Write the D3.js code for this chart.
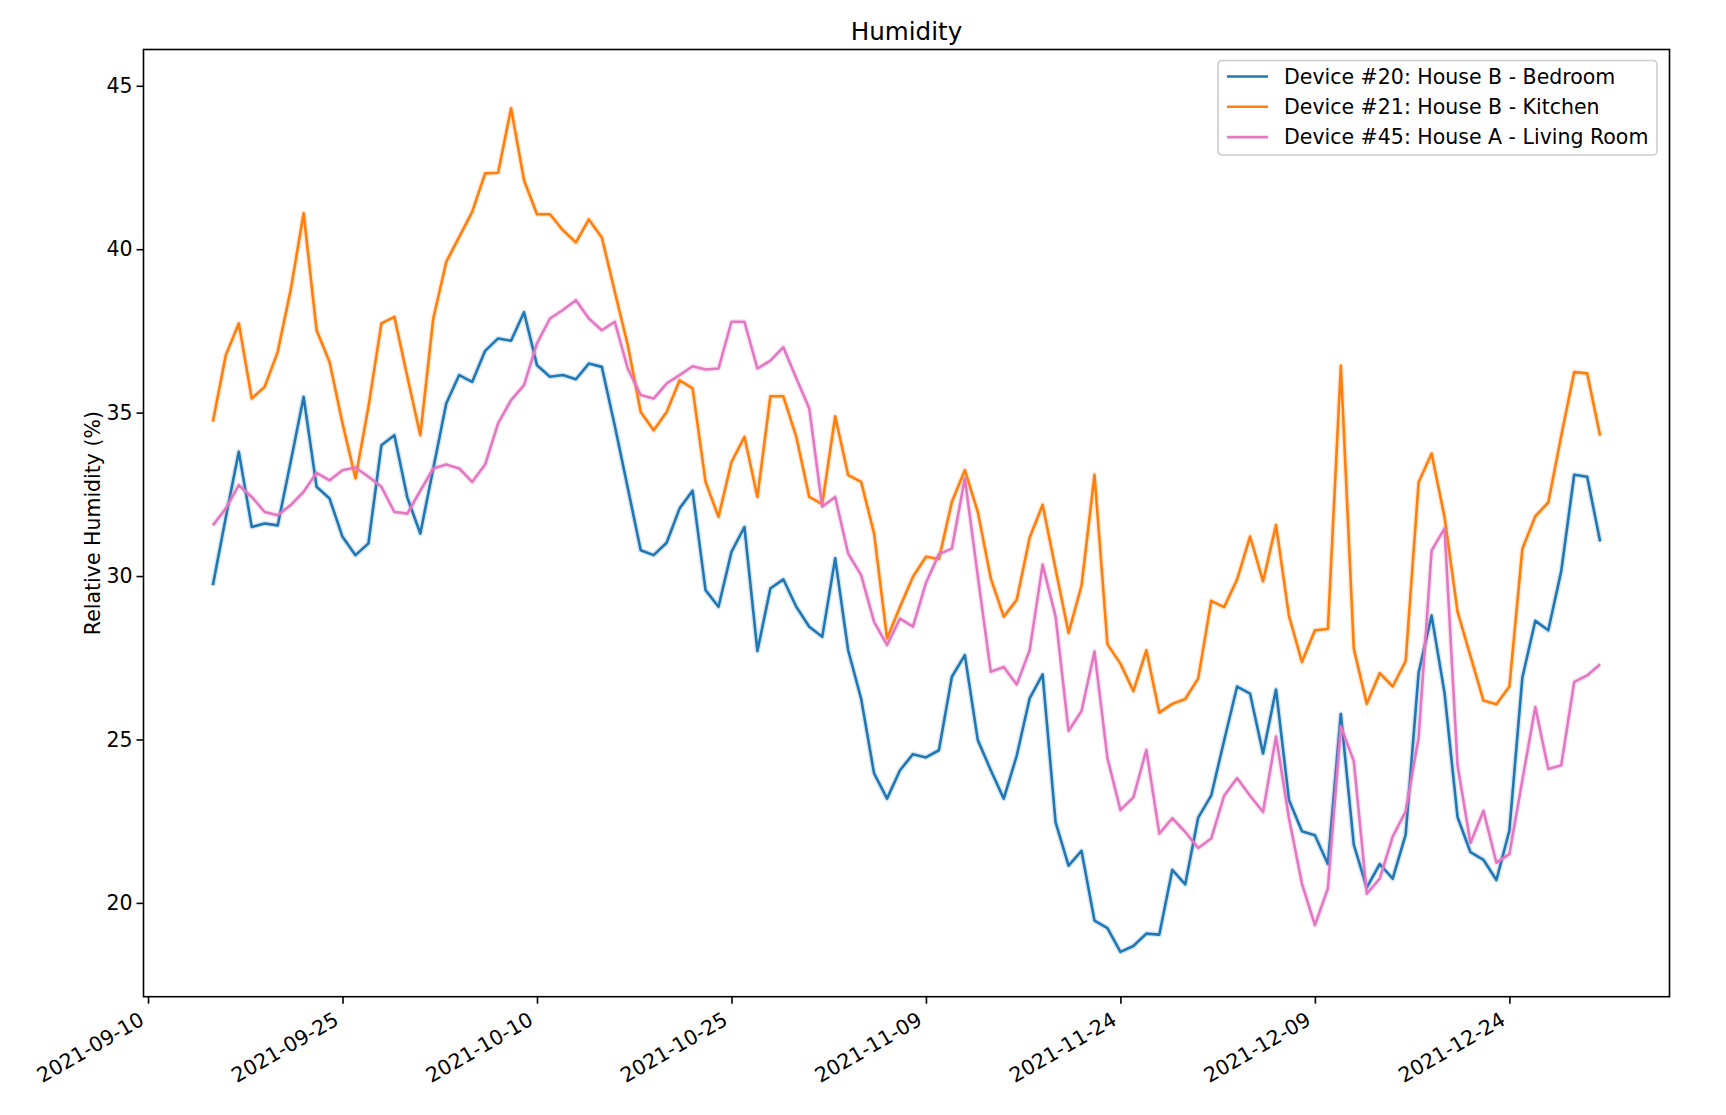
<!DOCTYPE html>
<html>
<head>
<meta charset="utf-8">
<script src="https://cdn.jsdelivr.net/npm/d3@7"></script>
<style>
  body { margin: 0; background: #fff; }
  text { font-family: "DejaVu Sans", sans-serif; }
</style>
</head>
<body>
<div class="visiHolder"></div>
<script>
// daily means, one value per day starting at startDate
const startDate = "2021-09-15";

const bedroom = [
  29.72, 31.8, 33.8, 31.5, 31.61, 31.55, 33.49, 35.48, 32.73, 32.37,
  31.2, 30.64, 31.0, 34.0, 34.31, 32.4, 31.3, 33.29, 35.28, 36.15,
  35.94, 36.89, 37.27, 37.2, 38.07, 36.45, 36.1, 36.15, 36.02, 36.5,
  36.4, 34.6, 32.7, 30.79, 30.64, 31.02, 32.07, 32.61, 29.57, 29.06,
  30.74, 31.5, 27.71, 29.62, 29.9, 29.06, 28.45, 28.14, 30.54, 27.73,
  26.25, 23.96, 23.19, 24.06, 24.55, 24.45, 24.67, 26.92, 27.58, 24.98,
  24.06, 23.19, 24.5, 26.26, 26.99, 22.46, 21.14, 21.59, 19.46, 19.23,
  18.5, 18.68, 19.06, 19.03, 21.01, 20.57, 22.61, 23.28, 24.97, 26.62,
  26.4, 24.57, 26.53, 23.15, 22.19, 22.07, 21.19, 25.78, 21.78, 20.47,
  21.19, 20.74, 22.09, 27.04, 28.79, 26.42, 22.63, 21.55, 21.32, 20.7,
  22.21, 26.89, 28.63, 28.34, 30.15, 33.1, 33.04, 31.06
];

const kitchen = [
  34.72, 36.76, 37.73, 35.43, 35.79, 36.86, 38.75, 41.1, 37.52, 36.55,
  34.67, 32.99, 35.18, 37.73, 37.93, 36.1, 34.31, 37.88, 39.61, 40.38,
  41.14, 42.32, 42.34, 44.31, 42.11, 41.07, 41.07, 40.58, 40.21, 40.91,
  40.36, 38.7, 37.07, 35.02, 34.46, 35.02, 35.99, 35.74, 32.88, 31.81,
  33.49, 34.26, 32.42, 35.5, 35.5, 34.26, 32.42, 32.2, 34.89, 33.09,
  32.88, 31.3, 28.09, 29.06, 29.98, 30.59, 30.52, 32.27, 33.24, 31.96,
  29.93, 28.76, 29.27, 31.18, 32.18, 30.21, 28.26, 29.71, 33.1, 27.91,
  27.32, 26.48, 27.73, 25.82, 26.09, 26.24, 26.87, 29.24, 29.05, 29.9,
  31.21, 29.84, 31.56, 28.78, 27.37, 28.34, 28.38, 36.43, 27.78, 26.09,
  27.03, 26.62, 27.4, 32.87, 33.75, 31.8, 28.91, 27.55, 26.19, 26.08,
  26.62, 30.83, 31.83, 32.25, 34.29, 36.24, 36.2, 34.29
];

const livingRoom = [
  31.55, 32.07, 32.78, 32.42, 31.96, 31.86, 32.17, 32.58, 33.16, 32.93,
  33.24, 33.32, 33.04, 32.73, 31.96, 31.91, 32.61, 33.29, 33.41, 33.29,
  32.88, 33.41, 34.67, 35.38, 35.84, 37.12, 37.88, 38.14, 38.44, 37.88,
  37.52, 37.78, 36.35, 35.54, 35.43, 35.89, 36.15, 36.42, 36.32, 36.35,
  37.78, 37.78, 36.35, 36.59, 37.0, 36.05, 35.13, 32.12, 32.42, 30.69,
  30.03, 28.6, 27.89, 28.7, 28.45, 29.79, 30.67, 30.84, 32.99, 30.0,
  27.07, 27.22, 26.68, 27.73, 30.35, 28.76, 25.26, 25.87, 27.69, 24.43,
  22.84, 23.23, 24.68, 22.12, 22.59, 22.17, 21.68, 21.97, 23.28, 23.82,
  23.28, 22.78, 25.09, 22.59, 20.59, 19.32, 20.44, 25.4, 24.34, 20.28,
  20.74, 22.03, 22.8, 25.06, 30.78, 31.46, 24.21, 21.83, 22.82, 21.23,
  21.49, 23.76, 25.99, 24.1, 24.21, 26.76, 26.96, 27.3
];

const seriesNames = [
  "Device #20: House B - Bedroom",
  "Device #21: House B - Kitchen",
  "Device #45: House A - Living Room"
];
const seriesColors = ["#1f77b4", "#ff7f0e", "#e377c2"];

const xTickLabels = [
  "2021-09-10", "2021-09-25", "2021-10-10", "2021-10-25",
  "2021-11-09", "2021-11-24", "2021-12-09", "2021-12-24"
];
const yTickValues = [20, 25, 30, 35, 40, 45];

drawChart();

function drawChart() {
  const width = 1726;
  const height = 1115;
  const left = 143.5;
  const right = 1669.5;
  const top = 49.5;
  const bottom = 996.7;
  const fontSize = 20.5;

  const parseDate = d3.timeParse("%Y-%m-%d");
  const first = parseDate(startDate);
  const dates = bedroom.map((v, i) => d3.timeDay.offset(first, i));
  const series = [bedroom, kitchen, livingRoom];

  const svg = d3
    .select(".visiHolder")
    .append("svg")
    .attr("width", width)
    .attr("height", height)
    .style("background", "#fff");

  // 5% margin on the time axis like matplotlib
  const t0 = dates[0].getTime();
  const t1 = dates[dates.length - 1].getTime();
  const pad = (t1 - t0) * 0.05;
  const xScale = d3
    .scaleTime()
    .domain([new Date(t0 - pad), new Date(t1 + pad)])
    .range([left, right]);

  const yScale = d3.scaleLinear().domain([17.13, 46.11]).range([bottom, top]);

  const line = d3
    .line()
    .x((d) => xScale(d[0]))
    .y((d) => yScale(d[1]));

  series.forEach((values, k) => {
    const pts = values.map((v, i) => [dates[i], v]);
    svg
      .append("path")
      .datum(pts)
      .attr("fill", "none")
      .attr("stroke", seriesColors[k])
      .attr("stroke-opacity", 0.18)
      .attr("stroke-width", 5.5)
      .attr("stroke-linejoin", "round")
      .attr("d", line);
    svg
      .append("path")
      .datum(pts)
      .attr("fill", "none")
      .attr("stroke", seriesColors[k])
      .attr("stroke-width", 2.6)
      .attr("stroke-linejoin", "round")
      .attr("d", line);
  });

  // axes
  const yAxis = d3
    .axisLeft(yScale)
    .tickValues(yTickValues)
    .tickSize(7)
    .tickPadding(4)
    .tickSizeOuter(0);

  const xAxis = d3
    .axisBottom(xScale)
    .tickValues(xTickLabels.map(parseDate))
    .tickFormat(d3.timeFormat("%Y-%m-%d"))
    .tickSize(7)
    .tickSizeOuter(0);

  const gy = svg
    .append("g")
    .attr("id", "y-axis")
    .attr("transform", `translate(${left}, 0)`)
    .call(yAxis);
  gy.select(".domain").remove();
  gy.selectAll(".tick line").attr("stroke", "#000").attr("stroke-width", 1.6);
  gy.selectAll(".tick text")
    .attr("font-size", fontSize)
    .attr("font-family", "DejaVu Sans")
    .attr("fill", "#000");

  const gx = svg
    .append("g")
    .attr("id", "x-axis")
    .attr("transform", `translate(0, ${bottom})`)
    .call(xAxis);
  gx.select(".domain").remove();
  gx.selectAll(".tick line").attr("stroke", "#000").attr("stroke-width", 1.6);
  gx.selectAll(".tick text")
    .attr("font-size", fontSize)
    .attr("font-family", "DejaVu Sans")
    .attr("fill", "#000")
    .attr("text-anchor", "end")
    .attr("dy", null)
    .attr("y", null)
    .attr("transform", "translate(-3, 27) rotate(-30)");

  // frame
  svg
    .append("rect")
    .attr("x", left)
    .attr("y", top)
    .attr("width", right - left)
    .attr("height", bottom - top)
    .attr("fill", "none")
    .attr("stroke", "#000")
    .attr("stroke-width", 1.6);

  // title and axis label
  svg
    .append("text")
    .attr("x", (left + right) / 2)
    .attr("y", 40)
    .attr("text-anchor", "middle")
    .attr("font-size", 24.6)
    .text("Humidity");

  svg
    .append("text")
    .attr("transform", `translate(100, ${(top + bottom) / 2}) rotate(-90)`)
    .attr("text-anchor", "middle")
    .attr("font-size", fontSize)
    .text("Relative Humidity (%)");

  // legend
  const legend = svg.append("g").attr("transform", "translate(1218, 60.5)");
  legend
    .append("rect")
    .attr("width", 439)
    .attr("height", 94.5)
    .attr("rx", 4)
    .attr("fill", "#fff")
    .attr("fill-opacity", 0.8)
    .attr("stroke", "#ccc")
    .attr("stroke-width", 1.6);

  seriesNames.forEach((name, k) => {
    const cy = 16 + k * 30.3;
    legend
      .append("line")
      .attr("x1", 9)
      .attr("x2", 50)
      .attr("y1", cy)
      .attr("y2", cy)
      .attr("stroke", seriesColors[k])
      .attr("stroke-width", 2.6);
    legend
      .append("text")
      .attr("x", 66)
      .attr("y", cy + 7.3)
      .attr("font-size", fontSize)
      .text(name);
  });
}
</script>
</body>
</html>
